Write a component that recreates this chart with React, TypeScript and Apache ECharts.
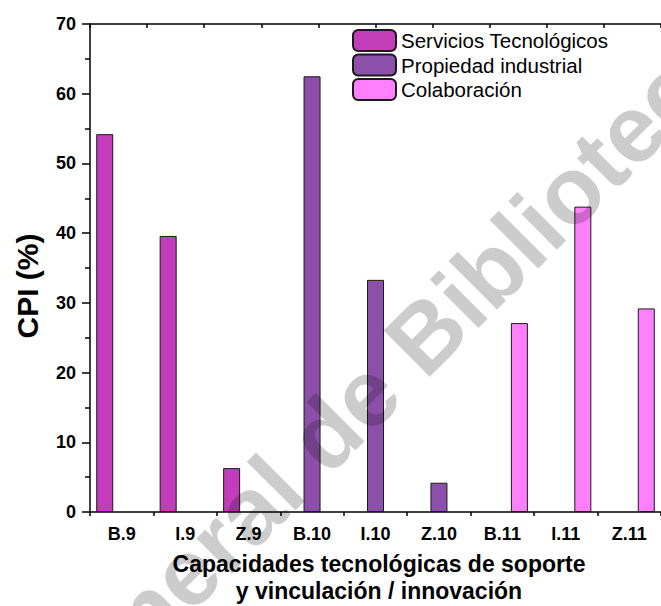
import React, { useEffect, useRef } from "react";
import * as echarts from "echarts";

const categories = ["B.9", "I.9", "Z.9", "B.10", "I.10", "Z.10", "B.11", "I.11", "Z.11"];
const seriesNames = ["Servicios Tecnológicos", "Propiedad industrial", "Colaboración"];
const serviciosValues = [54.2, 39.6, 6.3, null, null, null, null, null, null];
const propiedadValues = [null, null, null, 62.5, 33.3, 4.2, null, null, null];
const colaboracionValues = [null, null, null, null, null, null, 27.1, 43.8, 29.2];
const seriesColors = ["#C33CB9", "#8C50AA", "#FF80FF"];
const yTicks = [0, 10, 20, 30, 40, 50, 60, 70];
const xTitleLines = ["Capacidades tecnológicas de soporte", "y vinculación / innovación"];
const yTitle = "CPI (%)";

const FONT = "Liberation Sans, Arial, Helvetica, sans-serif";

export default function App() {
  const ref = useRef<HTMLDivElement>(null);
  useEffect(() => {
    if (!ref.current) return;
    document.body.style.overflow = "hidden";
    const chart = echarts.init(ref.current, null, { renderer: "svg" });
    const values = [serviciosValues, propiedadValues, colaboracionValues];
    const left = 90, top = 24, width = 580, height = 488;
    const wm = {
      fontSize: 95,
      fontWeight: "bold",
      fontFamily: FONT,
      fill: "rgba(0,0,0,0.2)",
      textVerticalAlign: "middle",
    };
    const rot = Math.PI / 4;
    const titleStyle = {
      fontSize: 23,
      fontWeight: "bold",
      fontFamily: FONT,
      fill: "#000",
      textAlign: "center",
      textVerticalAlign: "middle",
    };
    chart.setOption({
      animation: false,
      backgroundColor: "#ffffff",
      textStyle: { fontFamily: FONT },
      grid: { left, top, width, height, containLabel: false },
      legend: {
        left: 347,
        top: 24,
        orient: "vertical",
        itemWidth: 43,
        itemHeight: 21,
        itemGap: 1.5,
        textStyle: { fontSize: 20.5, lineHeight: 21, color: "#000", fontFamily: FONT },
        data: seriesNames,
      },
      xAxis: [
        {
          type: "category",
          data: categories,
          position: "bottom",
          boundaryGap: true,
          axisLine: { lineStyle: { color: "#000", width: 1.5 } },
          axisTick: { alignWithLabel: true, length: 7, lineStyle: { color: "#000", width: 1.5 } },
          axisLabel: { fontSize: 18, fontWeight: "bold", color: "#000", margin: 13, fontFamily: FONT },
          splitLine: { show: false },
        },
        {
          type: "category",
          data: categories,
          position: "bottom",
          boundaryGap: true,
          axisLine: { show: false },
          axisTick: { show: true, length: 4, lineStyle: { color: "#000", width: 1.5 } },
          axisLabel: { show: false },
          splitLine: { show: false },
        },
        {
          type: "value",
          position: "top",
          min: 0,
          max: 10,
          interval: 1,
          axisLine: { show: true, lineStyle: { color: "#000", width: 1.5 } },
          axisTick: { show: true, inside: true, length: 4, lineStyle: { color: "#000", width: 1.5 } },
          axisLabel: { show: false },
          splitLine: { show: false },
        },
      ],
      yAxis: [
        {
          type: "value",
          min: yTicks[0],
          max: yTicks[yTicks.length - 1],
          interval: 10,
          axisLine: { show: true, lineStyle: { color: "#000", width: 1.5 } },
          axisTick: { show: true, length: 8, lineStyle: { color: "#000", width: 1.5 } },
          minorTick: { show: true, splitNumber: 2, length: 5, lineStyle: { color: "#000", width: 1.5 } },
          axisLabel: { fontSize: 18, fontWeight: "bold", color: "#000", margin: 14, fontFamily: FONT },
          splitLine: { show: false },
        },
      ],
      series: seriesNames.map((name, i) => ({
        name,
        type: "bar",
        xAxisIndex: 0,
        yAxisIndex: 0,
        data: values[i],
        barWidth: 17,
        barGap: "0%",
        itemStyle: { color: seriesColors[i], borderColor: "#1a1a1a", borderWidth: 1 },
      })),
      graphic: [
        {
          type: "text",
          x: 27,
          y: 286,
          rotation: Math.PI / 2,
          style: {
            text: yTitle,
            fontSize: 30,
            fontWeight: "bold",
            fontFamily: FONT,
            fill: "#000",
            textAlign: "center",
            textVerticalAlign: "middle",
          },
        },
        { type: "text", x: 379, y: 564, style: { ...titleStyle, text: xTitleLines[0] } },
        { type: "text", x: 379, y: 591, style: { ...titleStyle, text: xTitleLines[1] } },
        {
          type: "text",
          x: 383,
          y: 376,
          z: 100,
          rotation: rot,
          silent: true,
          style: { ...wm, text: "Dirección General de", textAlign: "right" },
        },
        {
          type: "text",
          x: 402,
          y: 358,
          z: 100,
          rotation: rot,
          silent: true,
          style: { ...wm, text: "Bibliotecas", textAlign: "left" },
        },
      ],
    });
    return () => chart.dispose();
  }, []);
  return (
    <div
      ref={ref}
      style={{ position: "fixed", left: 0, top: 0, width: 661, height: 606, overflow: "hidden", background: "#fff" }}
    />
  );
}
